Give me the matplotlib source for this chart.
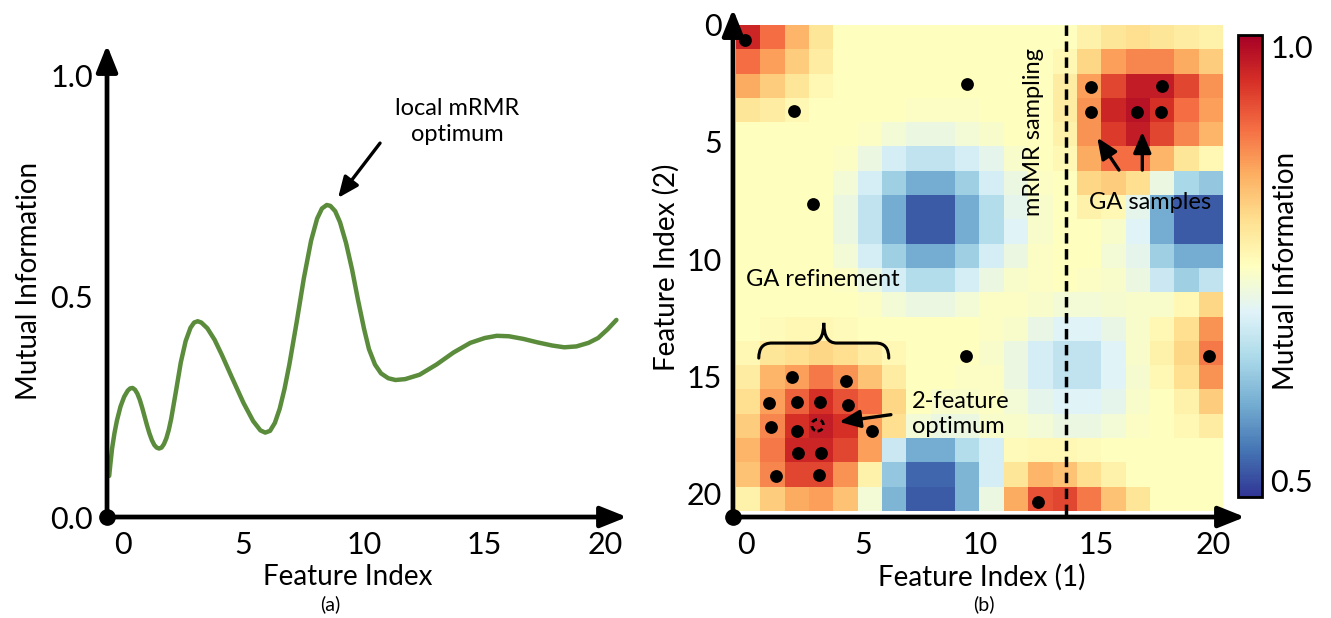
"""Mutual information along one feature index (a) and over feature pairs (b)."""

import matplotlib

matplotlib.use("Agg")
import matplotlib.pyplot as plt
import numpy as np
from matplotlib.patches import PathPatch
from matplotlib.path import Path

plt.rcParams["font.family"] = ["Lato", "DejaVu Sans"]

# (a) single-feature MI curve
CURVE_X = [
    -0.57, -0.52, -0.45, -0.35, -0.25, -0.1, 0.05, 0.2, 0.3, 0.4, 0.5, 0.6,
    0.7, 0.8, 0.9, 1.0, 1.1, 1.2, 1.3, 1.4, 1.5, 1.6, 1.7, 1.8, 1.9, 2.0,
    2.2, 2.4, 2.6, 2.8, 2.95, 3.1, 3.25, 3.5, 3.8, 4.1, 4.5, 5.0, 5.4, 5.7,
    5.9, 6.1, 6.3, 6.5, 6.7, 6.9, 7.2, 7.5, 7.8, 8.05, 8.25, 8.45, 8.6, 8.8,
    9.0, 9.25, 9.5, 9.75, 10.0, 10.2, 10.45, 10.7, 11.0, 11.3, 11.7, 12.3,
    13.0, 13.7, 14.4, 15.0, 15.5, 16.0, 16.6, 17.2, 17.8, 18.3, 18.8, 19.3,
    19.7, 20.1, 20.46,
]
CURVE_MI = [
    0.093, 0.12, 0.155, 0.19, 0.218, 0.25, 0.272, 0.286, 0.291, 0.292, 0.288,
    0.279, 0.265, 0.247, 0.227, 0.207, 0.189, 0.174, 0.163, 0.157, 0.155,
    0.157, 0.165, 0.178, 0.197, 0.222, 0.285, 0.35, 0.398, 0.428, 0.44,
    0.443, 0.44, 0.427, 0.401, 0.367, 0.318, 0.258, 0.217, 0.196, 0.191,
    0.195, 0.213, 0.245, 0.29, 0.345, 0.44, 0.54, 0.625, 0.675, 0.698, 0.706,
    0.704, 0.692, 0.667, 0.62, 0.56, 0.49, 0.425, 0.38, 0.345, 0.325, 0.314,
    0.31, 0.312, 0.322, 0.345, 0.372, 0.394, 0.405, 0.41, 0.409, 0.403,
    0.395, 0.388, 0.384, 0.386, 0.394, 0.405, 0.425, 0.446,
]

# (b) pairwise MI grid, 20 x 20 cells
MI_GRID = [
    [0.96, 0.90, 0.84, 0.79, 0.75, 0.75, 0.75, 0.75, 0.75, 0.75, 0.75, 0.75, 0.75, 0.75, 0.77, 0.79, 0.80, 0.79, 0.78, 0.77],
    [0.90, 0.86, 0.82, 0.78, 0.75, 0.75, 0.75, 0.75, 0.75, 0.75, 0.75, 0.75, 0.75, 0.76, 0.81, 0.86, 0.88, 0.88, 0.85, 0.82],
    [0.85, 0.82, 0.79, 0.76, 0.75, 0.75, 0.75, 0.75, 0.75, 0.75, 0.75, 0.75, 0.75, 0.78, 0.86, 0.93, 0.97, 0.97, 0.93, 0.87],
    [0.79, 0.78, 0.76, 0.75, 0.75, 0.75, 0.75, 0.745, 0.745, 0.745, 0.75, 0.75, 0.75, 0.78, 0.87, 0.96, 0.98, 0.95, 0.90, 0.86],
    [0.75, 0.75, 0.75, 0.75, 0.75, 0.745, 0.73, 0.72, 0.72, 0.73, 0.74, 0.75, 0.75, 0.77, 0.87, 0.94, 0.97, 0.93, 0.88, 0.84],
    [0.75, 0.75, 0.75, 0.75, 0.745, 0.72, 0.69, 0.67, 0.67, 0.69, 0.71, 0.74, 0.75, 0.76, 0.85, 0.90, 0.90, 0.84, 0.79, 0.76],
    [0.75, 0.75, 0.75, 0.75, 0.73, 0.69, 0.64, 0.60, 0.60, 0.64, 0.69, 0.72, 0.745, 0.75, 0.81, 0.82, 0.80, 0.72, 0.65, 0.63],
    [0.75, 0.75, 0.75, 0.75, 0.72, 0.67, 0.60, 0.53, 0.53, 0.60, 0.66, 0.71, 0.74, 0.75, 0.77, 0.76, 0.71, 0.60, 0.53, 0.53],
    [0.75, 0.75, 0.75, 0.75, 0.72, 0.67, 0.60, 0.53, 0.53, 0.60, 0.66, 0.70, 0.74, 0.75, 0.75, 0.74, 0.70, 0.60, 0.53, 0.53],
    [0.75, 0.75, 0.75, 0.75, 0.73, 0.69, 0.64, 0.60, 0.60, 0.64, 0.69, 0.72, 0.745, 0.75, 0.75, 0.73, 0.71, 0.64, 0.60, 0.60],
    [0.75, 0.75, 0.75, 0.75, 0.745, 0.72, 0.69, 0.66, 0.66, 0.69, 0.72, 0.74, 0.745, 0.75, 0.745, 0.74, 0.72, 0.68, 0.64, 0.67],
    [0.75, 0.75, 0.75, 0.75, 0.75, 0.745, 0.73, 0.72, 0.72, 0.73, 0.745, 0.745, 0.74, 0.73, 0.73, 0.735, 0.74, 0.74, 0.76, 0.81],
    [0.75, 0.755, 0.76, 0.76, 0.755, 0.75, 0.75, 0.75, 0.75, 0.75, 0.745, 0.74, 0.715, 0.70, 0.70, 0.715, 0.74, 0.76, 0.80, 0.87],
    [0.76, 0.79, 0.80, 0.81, 0.80, 0.78, 0.76, 0.75, 0.75, 0.75, 0.74, 0.72, 0.69, 0.67, 0.67, 0.70, 0.74, 0.77, 0.81, 0.89],
    [0.78, 0.84, 0.86, 0.89, 0.87, 0.83, 0.78, 0.75, 0.75, 0.745, 0.745, 0.72, 0.69, 0.67, 0.67, 0.70, 0.735, 0.76, 0.80, 0.87],
    [0.80, 0.86, 0.91, 0.95, 0.92, 0.90, 0.81, 0.75, 0.74, 0.74, 0.745, 0.73, 0.71, 0.70, 0.70, 0.71, 0.74, 0.75, 0.77, 0.82],
    [0.82, 0.88, 0.95, 0.97, 0.95, 0.86, 0.80, 0.73, 0.72, 0.72, 0.74, 0.74, 0.73, 0.72, 0.72, 0.73, 0.745, 0.75, 0.76, 0.78],
    [0.84, 0.89, 0.96, 0.96, 0.93, 0.86, 0.68, 0.60, 0.60, 0.66, 0.69, 0.755, 0.76, 0.76, 0.755, 0.75, 0.75, 0.75, 0.75, 0.75],
    [0.83, 0.88, 0.93, 0.93, 0.87, 0.77, 0.63, 0.54, 0.54, 0.61, 0.69, 0.79, 0.84, 0.83, 0.80, 0.77, 0.75, 0.75, 0.75, 0.75],
    [0.77, 0.82, 0.85, 0.86, 0.83, 0.73, 0.61, 0.53, 0.53, 0.61, 0.72, 0.85, 0.92, 0.93, 0.89, 0.83, 0.79, 0.75, 0.75, 0.75],
]

# sample points (feature index 1, feature index 2)
MRMR_X = [-0.06, 2.04, 9.45, 2.85, 9.41, 19.82, 12.51]
MRMR_Y = [0.67, 3.70, 2.56, 7.66, 14.14, 14.14, 20.36]
GA_TOP_X = [14.75, 14.75, 16.75, 17.79, 17.75]
GA_TOP_Y = [2.66, 3.75, 3.75, 2.63, 3.75]
GA_LOW_X = [1.95, 4.27, 0.96, 2.17, 3.17, 4.34, 1.05, 2.17, 5.38, 2.20, 3.20, 1.27, 3.10]
GA_LOW_Y = [15.04, 15.21, 16.13, 16.10, 16.10, 16.21, 17.17, 17.31, 17.34,
            18.26, 18.26, 19.25, 19.19]
OPTIMUM_X = [3.05]
OPTIMUM_Y = [17.08]
MRMR_SPLIT = 13.68

TICKS = [0, 5, 10, 15, 20]
MI_TICKS = [0.0, 0.5, 1.0]

HEAT_EXTENT = (-0.446, 20.38, 20.73, 0.034)
LINE_GREEN = "#5a8c3c"
TEXT_SIZE = 17
LABEL_SIZE = 20
TICK_SIZE = 22
ARROW = dict(arrowstyle="-|>,head_length=0.7,head_width=0.3", lw=2.4,
             color="black", shrinkA=0, shrinkB=0, mutation_scale=18)


def draw_axis_arrows(ax):
    for spine in ax.spines.values():
        spine.set_visible(False)
    style = dict(arrowstyle="-|>,head_length=0.8,head_width=0.32", lw=3.4,
                 color="black", shrinkA=0, shrinkB=0, mutation_scale=20)
    ax.annotate("", xy=(1, 0), xytext=(0, 0), xycoords="axes fraction",
                arrowprops=style, annotation_clip=False, zorder=6)
    ax.annotate("", xy=(0, 1), xytext=(0, 0), xycoords="axes fraction",
                arrowprops=style, annotation_clip=False, zorder=6)
    ax.plot([0], [0], "o", color="black", ms=11, transform=ax.transAxes,
            clip_on=False, zorder=7)
    ax.tick_params(length=0, labelsize=TICK_SIZE, pad=10)


def render_curve(fig):
    ax = fig.add_axes([0.0804, 0.1634, 0.3907, 0.7638])
    ax.plot(CURVE_X, CURVE_MI, color=LINE_GREEN, lw=3.2,
            solid_joinstyle="round", solid_capstyle="round")
    ax.set_xlim(-0.66, 20.9)
    ax.set_ylim(0, 1.068)
    ax.set_xticks(TICKS)
    ax.set_yticks(MI_TICKS, [f"{v:.1f}" for v in MI_TICKS])
    draw_axis_arrows(ax)
    ax.set_xlabel("Feature Index", fontsize=LABEL_SIZE)
    ax.xaxis.set_label_coords(0.462, -0.1)
    ax.set_ylabel("Mutual Information", fontsize=LABEL_SIZE)
    ax.yaxis.set_label_coords(-0.125, 0.5)
    ax.annotate("", xy=(8.92, 0.722), xytext=(10.66, 0.846), arrowprops=ARROW)
    ax.text(13.86, 0.895, "local mRMR\noptimum", ha="center", va="center",
            fontsize=TEXT_SIZE, linespacing=1.25)


def draw_brace(ax, xl, xr, y_end, y_mid, y_tip, r=0.55):
    xm = (xl + xr) / 2
    verts = [
        (xl, y_end), (xl, y_mid), (xl + r, y_mid), (xm - r, y_mid),
        (xm, y_mid), (xm, y_tip), (xm, y_mid), (xm + r, y_mid),
        (xr - r, y_mid), (xr, y_mid), (xr, y_end),
    ]
    codes = [
        Path.MOVETO, Path.CURVE3, Path.CURVE3, Path.LINETO, Path.CURVE3,
        Path.CURVE3, Path.CURVE3, Path.CURVE3, Path.LINETO, Path.CURVE3,
        Path.CURVE3,
    ]
    ax.add_patch(PathPatch(Path(verts, codes), fill=False, lw=2.2,
                           edgecolor="black", capstyle="round", zorder=4))


def render_heatmap(fig):
    ax = fig.add_axes([0.5507, 0.1634, 0.3847, 0.822])
    image = ax.imshow(np.array(MI_GRID), cmap="RdYlBu_r", vmin=0.5, vmax=1.0,
                      extent=HEAT_EXTENT, aspect="auto",
                      interpolation="nearest", zorder=0)
    ax.set_xlim(-0.575, 21.36)
    ax.set_ylim(20.99, -0.65)
    ax.set_xticks(TICKS)
    ax.set_yticks(TICKS)
    draw_axis_arrows(ax)
    ax.tick_params(axis="y", pad=8)
    ax.set_xlabel("Feature Index (1)", fontsize=LABEL_SIZE)
    ax.xaxis.set_label_coords(0.486, -0.092)
    ax.set_ylabel("Feature Index (2)", fontsize=LABEL_SIZE)
    ax.yaxis.set_label_coords(-0.104, 0.492)

    dot = dict(s=85, color="black", linewidths=0, zorder=5)
    ax.scatter(MRMR_X, MRMR_Y, **dot)
    ax.scatter(GA_TOP_X, GA_TOP_Y, **dot)
    ax.scatter(GA_LOW_X, GA_LOW_Y, **dot)
    ax.scatter(OPTIMUM_X, OPTIMUM_Y, s=70, facecolors="none",
               edgecolors="black", linewidths=2, linestyles=(0, (2, 1.4)),
               zorder=5)

    ax.plot([MRMR_SPLIT, MRMR_SPLIT], [HEAT_EXTENT[3], 20.99], color="black",
            lw=2.5, ls=(0, (3, 1.6)), zorder=4)
    ax.text(12.32, 4.58, "mRMR sampling", rotation=90, ha="center",
            va="center", fontsize=TEXT_SIZE)

    ax.annotate("", xy=(15.03, 4.83), xytext=(15.96, 6.21), arrowprops=ARROW)
    ax.annotate("", xy=(16.96, 4.58), xytext=(16.96, 6.21), arrowprops=ARROW)
    ax.text(17.29, 7.58, "GA samples", ha="center", va="center",
            fontsize=TEXT_SIZE)

    ax.text(-0.02, 10.88, "GA refinement", ha="left", va="center",
            fontsize=TEXT_SIZE)
    draw_brace(ax, 0.53, 6.10, 14.22, 13.58, 12.72)

    ax.annotate("", xy=(3.98, 16.94), xytext=(6.19, 16.63), arrowprops=ARROW)
    ax.text(7.09, 16.6, "2-feature\noptimum", ha="left", va="center",
            fontsize=TEXT_SIZE, linespacing=1.2)
    return image


def render_colorbar(fig, image):
    cax = fig.add_axes([0.9301, 0.1958, 0.018, 0.7476])
    bar = fig.colorbar(image, cax=cax)
    bar.set_ticks([0.5, 1.0], labels=["0.5", "1.0"])
    bar.outline.set_linewidth(2)
    cax.tick_params(length=0, labelsize=TICK_SIZE, pad=6)
    low, high = cax.get_yticklabels()
    low.set_va("bottom")
    high.set_va("top")
    bar.set_label("Mutual Information", fontsize=LABEL_SIZE)
    cax.yaxis.set_label_coords(1.45, 0.49)


def main():
    fig = plt.figure(figsize=(13.31, 6.18), dpi=100)
    render_curve(fig)
    image = render_heatmap(fig)
    render_colorbar(fig, image)
    fig.text(330 / 1331, 1 - 604 / 618, "(a)", ha="center", va="center",
             fontsize=14)
    fig.text(984 / 1331, 1 - 604 / 618, "(b)", ha="center", va="center",
             fontsize=14)
    fig.savefig("out.png", dpi=100)
    plt.close(fig)


if __name__ == "__main__":
    main()
